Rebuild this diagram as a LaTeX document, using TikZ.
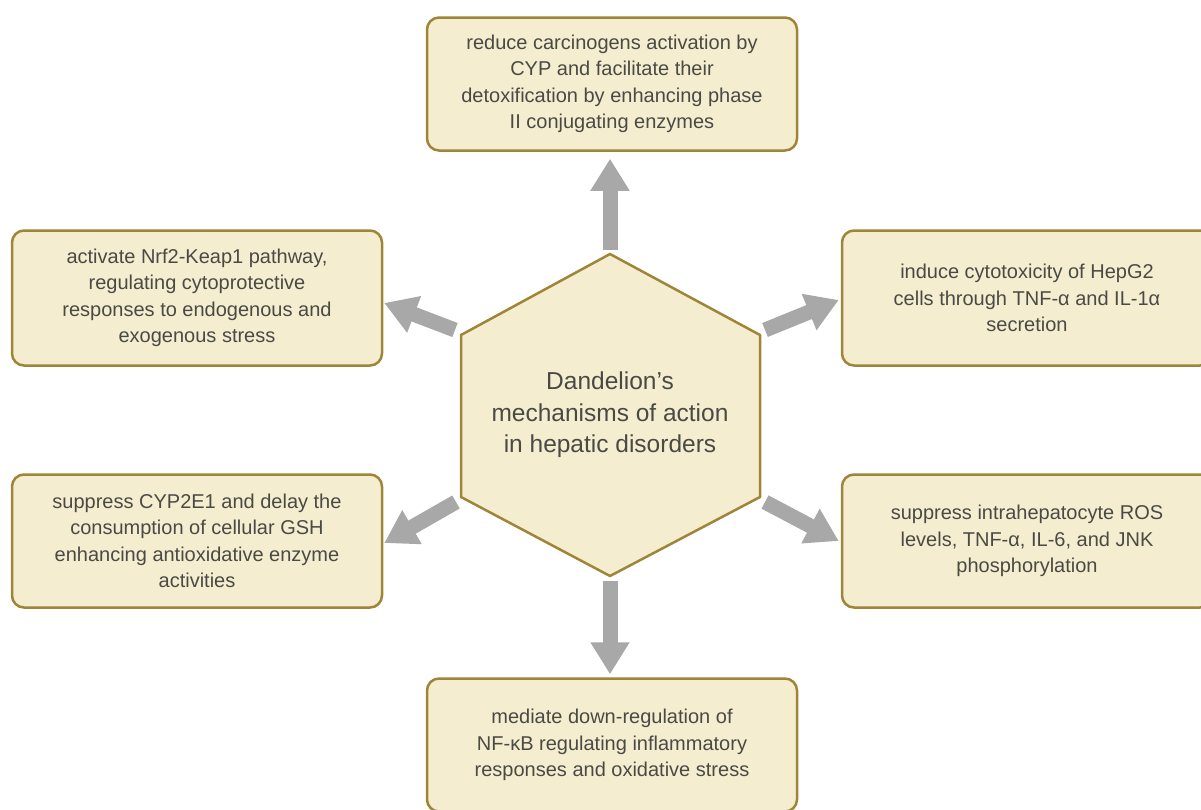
\documentclass[tikz,border=0pt]{standalone}
\usepackage{fontspec}
\setmainfont{Liberation Sans}
\usepackage{tikz}
\usetikzlibrary{arrows.meta,calc}
\definecolor{ffeecc}{rgb}{0.96,0.93,0.81}
\definecolor{aa8833}{rgb}{0.62,0.52,0.22}
\definecolor{aaaaaa}{rgb}{0.66,0.66,0.66}
\definecolor{qqqqqq}{rgb}{0.29,0.29,0.27}
\tikzset{
  effectbox/.style={rectangle,rounded corners=12pt,draw=aa8833,line width=2.5pt,
    fill=ffeecc,text=qqqqqq,minimum width=370pt,minimum height=133pt,
    align=center,inner sep=0pt,font=\fontsize{20}{26.5}\selectfont},
  fatarrow/.style={draw=aaaaaa,line width=15pt,
    -{Triangle[width=37pt,length=32pt]}}
}
\begin{document}
\begin{tikzpicture}[line cap=butt,line join=round,x=1pt,y=-1pt]
			\useasboundingbox (0,0) rectangle (1201,809);
			% hexagon corners
			\coordinate (hT) at (610,254);
			\coordinate (hUR) at (760,335);
			\coordinate (hLR) at (760,497);
			\coordinate (hB) at (610,576);
			\coordinate (hLL) at (461,497);
			\coordinate (hUL) at (461,335);
			\draw [draw=aa8833,fill=ffeecc,line width=2.5pt] (hT) -- (hUR) -- (hLR) -- (hB) -- (hLL) -- (hUL) -- cycle;
			\node [text=qqqqqq,align=center,font=\fontsize{24.5}{31.5}\selectfont] (hexa) at (610,415) {Dandelion's\\mechanisms of action\\in hepatic disorders};
			
			\node [effectbox] (top) at (612,84) {reduce carcinogens activation by\\CYP and facilitate their\\detoxification by enhancing phase\\II conjugating enzymes};
			\node [effectbox,minimum height=135pt] (ul) at (197,298) {activate Nrf2-Keap1 pathway,\\regulating cytoprotective\\responses to endogenous and\\exogenous stress};
			\node [effectbox,minimum height=135pt] (ur) at (1027,298) {induce cytotoxicity of HepG2\\cells through TNF-α and IL-1α\\secretion};
			\node [effectbox] (ll) at (197,541) {suppress CYP2E1 and delay the\\consumption of cellular GSH\\enhancing antioxidative enzyme\\activities};
			\node [effectbox] (lr) at (1027,541) {suppress intrahepatocyte ROS\\levels, TNF-α, IL-6, and JNK\\phosphorylation};
			\node [effectbox] (bot) at (612,745) {mediate down-regulation of\\NF-κB regulating inflammatory\\responses and oxidative stress};
			
			\draw [fatarrow] ([yshift=4pt]hT) -- ([shift={(-2pt,-7pt)}]top.south);
			\draw [fatarrow] ([shift={(-6pt,5pt)}]hUL) -- ([shift={(1pt,-5pt)}]ul.east);
			\draw [fatarrow] ([shift={(5pt,5pt)}]hUR) -- ([shift={(-2pt,-2pt)}]ur.west);
			\draw [fatarrow] ([shift={(-5pt,-5pt)}]hLL) -- ([shift={(1pt,-2pt)}]ll.east);
			\draw [fatarrow] ([shift={(5pt,-5pt)}]hLR) -- ([xshift=-2pt]lr.west);
			\draw [fatarrow] ([yshift=-5pt]hB) -- ([shift={(-2pt,3pt)}]bot.north);
		\end{tikzpicture}
\end{document}
